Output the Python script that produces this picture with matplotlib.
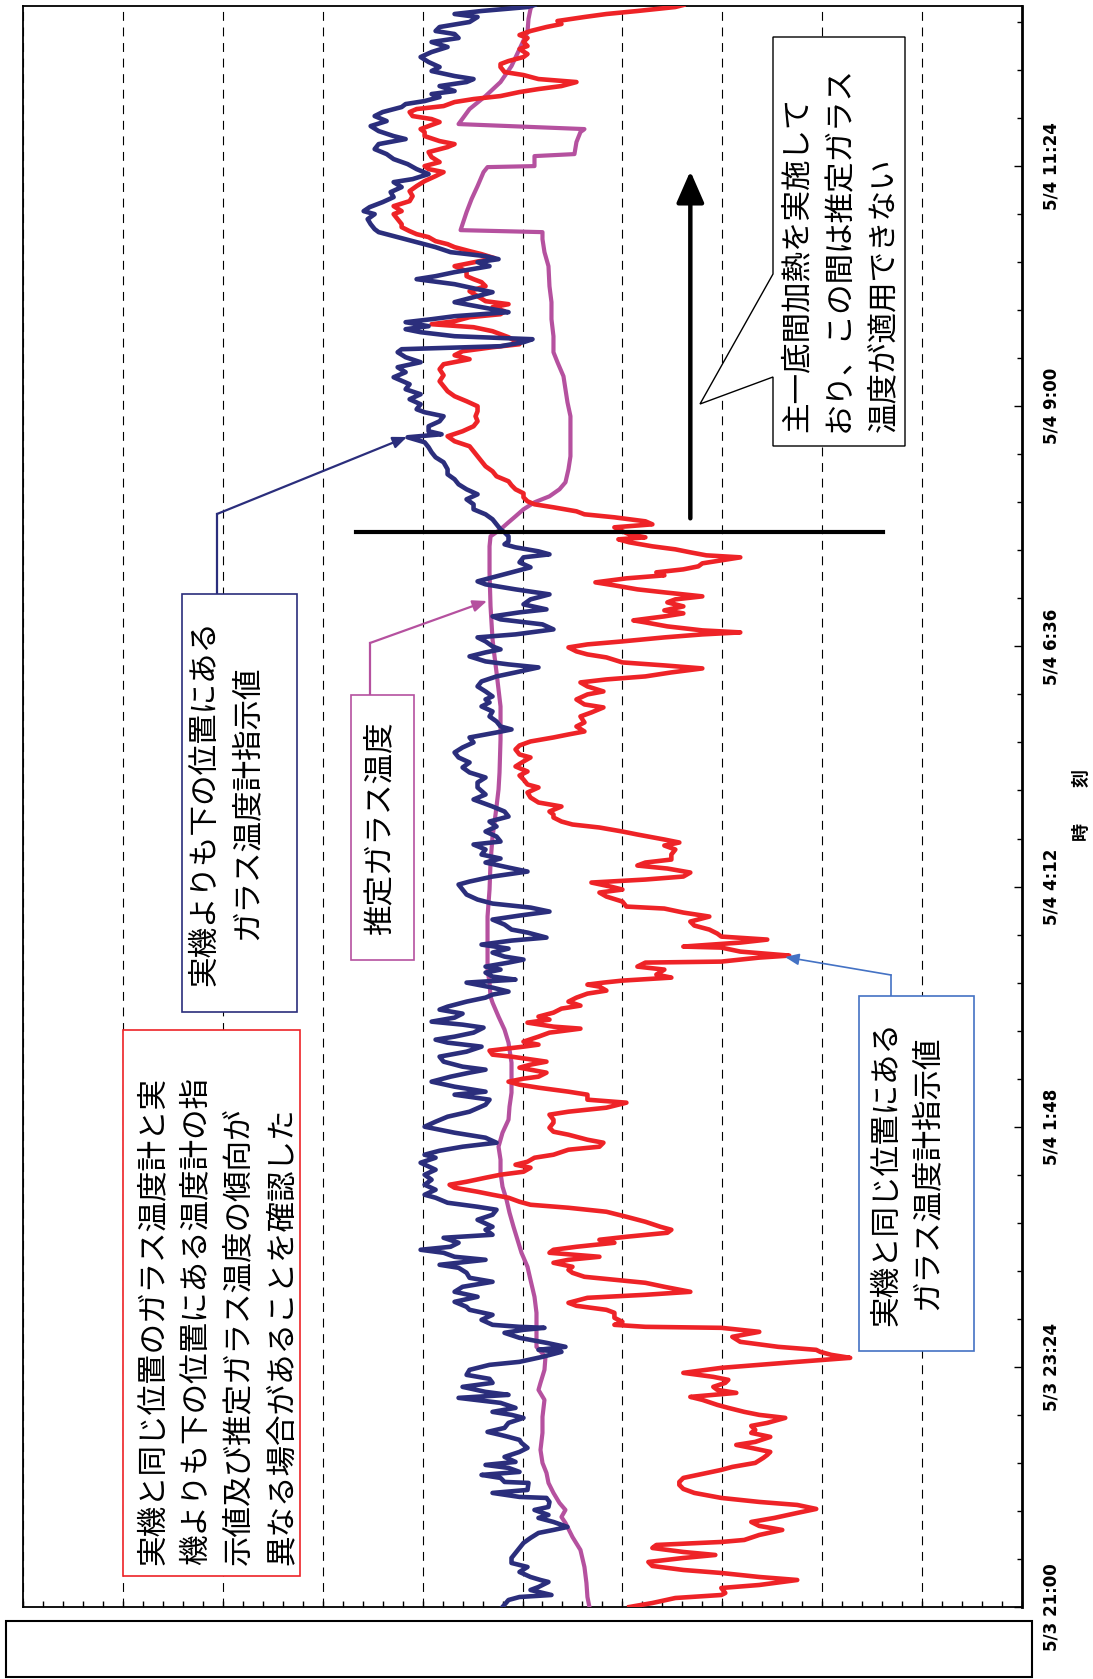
import matplotlib
matplotlib.use("Agg")
import matplotlib.pyplot as plt
from matplotlib.lines import Line2D
from matplotlib.patches import Rectangle, Polygon, FancyArrowPatch
from matplotlib.ticker import MultipleLocator

# ---------------------------------------------------------------------------
# data  (time = hours after 5/3 21:00, value = temperature in grid units)
# ---------------------------------------------------------------------------
time_ticks = [0, 2.4, 4.8, 7.2, 9.6, 12.0, 14.4]
time_labels = ["5/3 21:00", "5/3 23:24", "5/4 1:48", "5/4 4:12",
               "5/4 6:36", "5/4 9:00", "5/4 11:24"]

# 実機よりも下の位置にあるガラス温度計指示値 (navy)
navy_t = [0.00, 0.07, 0.10, 0.12, 0.17, 0.20, 0.25, 0.27, 0.30, 0.35, 0.40, 0.44, 0.49, 0.54, 0.59, 0.64,
          0.69, 0.74, 0.77, 0.80, 0.85, 0.89, 0.92, 0.97, 1.00, 1.05, 1.09, 1.10, 1.14, 1.17, 1.24, 1.25,
          1.29, 1.32, 1.35, 1.39, 1.42, 1.45, 1.50, 1.55, 1.59, 1.64, 1.67, 1.70, 1.72, 1.75, 1.79, 1.84,
          1.89, 1.92, 1.95, 1.99, 2.04, 2.09, 2.12, 2.15, 2.20, 2.24, 2.28, 2.32, 2.37, 2.42, 2.45, 2.50,
          2.55, 2.57, 2.60, 2.64, 2.69, 2.74, 2.77, 2.79, 2.80, 2.82, 2.87, 2.92, 2.97, 3.00, 3.05, 3.10,
          3.15, 3.20, 3.25, 3.29, 3.34, 3.39, 3.42, 3.47, 3.50, 3.54, 3.57, 3.60, 3.64, 3.69, 3.72, 3.77,
          3.80, 3.87, 3.92, 3.97, 4.00, 4.04, 4.09, 4.12, 4.17, 4.22, 4.27, 4.32, 4.37, 4.44, 4.49, 4.52,
          4.56, 4.60, 4.64, 4.69, 4.74, 4.80, 4.85, 4.90, 4.95, 5.02, 5.07, 5.12, 5.15, 5.20, 5.25, 5.30,
          5.34, 5.37, 5.40, 5.45, 5.50, 5.55, 5.60, 5.64, 5.67, 5.70, 5.74, 5.79, 5.82, 5.85, 5.89, 5.93,
          5.97, 6.00, 6.05, 6.09, 6.12, 6.15, 6.19, 6.24, 6.27, 6.30, 6.34, 6.37, 6.40, 6.44, 6.47, 6.50,
          6.54, 6.58, 6.62, 6.66, 6.69, 6.74, 6.77, 6.82, 6.87, 6.91, 6.95, 6.99, 7.03, 7.07, 7.12, 7.17,
          7.22, 7.25, 7.30, 7.35, 7.39, 7.44, 7.48, 7.52, 7.57, 7.62, 7.65, 7.70, 7.75, 7.80, 7.85, 7.90,
          7.95, 8.00, 8.07, 8.12, 8.19, 8.24, 8.29, 8.34, 8.39, 8.44, 8.49, 8.54, 8.59, 8.64, 8.69, 8.74,
          8.77, 8.80, 8.85, 8.90, 8.95, 9.00, 9.04, 9.07, 9.10, 9.15, 9.20, 9.25, 9.30, 9.34, 9.39, 9.42,
          9.45, 9.50, 9.54, 9.57, 9.60, 9.65, 9.69, 9.72, 9.77, 9.82, 9.87, 9.90, 9.94, 9.97, 10.02, 10.07,
          10.12, 10.17, 10.22, 10.25, 10.30, 10.35, 10.39, 10.44, 10.49, 10.52, 10.55, 10.59, 10.62, 10.65,
          10.70, 10.74, 10.77, 10.82, 10.87, 10.92, 10.97, 11.02, 11.07, 11.12, 11.17, 11.22, 11.27, 11.32,
          11.37, 11.44, 11.49, 11.54, 11.59, 11.64, 11.69, 11.72, 11.75, 11.80, 11.85, 11.90, 11.94, 11.97,
          12.02, 12.07, 12.12, 12.17, 12.22, 12.29, 12.34, 12.39, 12.44, 12.49, 12.54, 12.57, 12.60, 12.64,
          12.67, 12.70, 12.74, 12.77, 12.80, 12.84, 12.87, 12.90, 12.94, 12.97, 13.04, 13.09, 13.14, 13.17,
          13.22, 13.27, 13.30, 13.34, 13.40, 13.44, 13.47, 13.50, 13.54, 13.59, 13.64, 13.69, 13.74, 13.77,
          13.82, 13.87, 13.92, 13.95, 13.99, 14.04, 14.09, 14.14, 14.19, 14.24, 14.27, 14.32, 14.37, 14.42,
          14.47, 14.52, 14.57, 14.62, 14.67, 14.70, 14.75, 14.80, 14.85, 14.90, 14.94, 14.99, 15.02, 15.05,
          15.09, 15.12, 15.15, 15.20, 15.24, 15.27, 15.30, 15.35, 15.39, 15.44, 15.49, 15.54, 15.59, 15.64,
          15.68, 15.72, 15.75, 15.79, 15.84, 15.89, 15.92, 15.95, 15.99, 16.01]
navy_v = [5.20, 5.14, 5.03, 4.71, 4.92, 4.84, 4.74, 4.82, 4.92, 5.03, 4.95, 5.11, 5.11, 5.07, 5.03, 4.99,
          4.92, 4.84, 4.69, 4.55, 4.69, 4.84, 4.74, 4.88, 4.74, 4.73, 4.76, 5.03, 5.30, 4.95, 4.94, 5.18,
          5.22, 5.41, 5.03, 5.14, 5.37, 5.07, 5.18, 5.03, 4.95, 5.01, 5.03, 5.14, 5.22, 5.35, 5.18, 5.14,
          4.99, 5.11, 5.30, 5.07, 5.22, 5.64, 5.14, 5.37, 5.60, 5.30, 5.33, 5.56, 5.53, 5.33, 5.03, 4.80,
          4.61, 4.84, 4.57, 4.76, 5.03, 5.18, 4.99, 4.78, 5.03, 5.30, 5.41, 5.30, 5.53, 5.56, 5.68, 5.45,
          5.68, 5.60, 5.30, 5.53, 5.56, 5.64, 5.83, 5.37, 5.68, 5.79, 6.02, 5.72, 5.64, 5.79, 5.30, 5.37,
          5.30, 5.45, 5.30, 5.26, 5.45, 5.75, 5.87, 5.98, 5.87, 5.98, 5.91, 5.98, 5.87, 6.02, 5.87, 5.98,
          5.83, 5.60, 5.26, 5.37, 5.68, 5.98, 5.87, 5.75, 5.53, 5.37, 5.33, 5.68, 5.37, 5.68, 5.91, 5.72,
          5.53, 5.37, 5.60, 5.79, 5.83, 5.56, 5.41, 5.75, 5.87, 5.68, 5.49, 5.39, 5.60, 5.91, 5.68, 5.60,
          5.83, 5.75, 5.56, 5.37, 5.30, 5.14, 5.30, 5.56, 5.07, 5.30, 5.37, 5.22, 5.37, 5.14, 4.99, 5.18,
          5.30, 5.14, 5.41, 5.11, 4.76, 4.95, 5.11, 5.18, 5.30, 5.03, 4.73, 4.92, 5.30, 5.45, 5.56, 5.60,
          5.64, 5.53, 5.30, 4.95, 5.14, 5.37, 5.22, 5.41, 5.37, 5.49, 5.22, 5.26, 5.37, 5.26, 5.33, 5.14,
          5.18, 5.30, 5.49, 5.37, 5.45, 5.45, 5.37, 5.53, 5.60, 5.53, 5.64, 5.68, 5.60, 5.49, 5.53, 5.26,
          5.11, 5.22, 5.26, 5.33, 5.30, 5.41, 5.33, 5.37, 5.30, 5.37, 5.45, 5.41, 5.26, 5.07, 4.84, 5.14,
          5.37, 5.53, 5.37, 5.22, 5.30, 5.37, 5.45, 5.07, 4.69, 4.80, 5.22, 5.30, 5.03, 4.76, 4.99, 4.92,
          4.73, 5.07, 5.37, 5.45, 5.26, 5.07, 4.92, 5.03, 4.99, 4.73, 4.84, 5.07, 5.18, 5.14,
          5.14, 5.18, 5.22, 5.26, 5.30, 5.37, 5.49, 5.49, 5.56, 5.45, 5.56, 5.64, 5.68, 5.75,
          5.75, 5.79, 5.87, 5.91, 5.94, 5.98, 6.15, 5.81, 5.94, 5.94, 5.83, 5.79, 5.98, 6.06,
          6.02, 6.13, 6.02, 6.17, 6.13, 6.29, 6.17, 6.25, 6.02, 6.17, 6.25, 6.21, 5.22, 4.99,
          4.90, 5.68, 6.02, 6.17, 5.94, 6.17, 5.91, 5.68, 5.14, 5.30, 5.68, 5.49, 5.30, 5.45,
          5.68, 6.06, 5.87, 5.68, 5.33, 5.45, 5.24, 5.37, 5.72, 5.87, 6.06, 6.25, 6.44, 6.48,
          6.52, 6.55, 6.48, 6.59, 6.53, 6.40, 6.29, 6.32, 6.21, 6.29, 6.10, 5.94, 6.06, 6.15,
          6.29, 6.36, 6.48, 6.44, 6.17, 6.29, 6.44, 6.52, 6.36, 6.48, 6.40, 6.21, 6.17, 5.98,
          5.83, 5.91, 5.68, 5.83, 5.56, 5.49, 5.68, 5.91, 5.83, 5.94, 6.02, 5.91, 5.75, 5.91,
          5.64, 5.68, 5.87, 5.83, 5.53, 5.45, 5.68, 5.41, 4.95, 4.88]

# 実機と同じ位置にあるガラス温度計指示値 (red)
red_t = [0.00, 0.04, 0.09, 0.12, 0.14, 0.19, 0.22, 0.27, 0.30, 0.34, 0.37, 0.41, 0.45, 0.49, 0.52, 0.55,
         0.59, 0.62, 0.65, 0.67, 0.72, 0.77, 0.81, 0.85, 0.89, 0.94, 0.98, 1.02, 1.05, 1.09, 1.14, 1.18,
         1.22, 1.25, 1.29, 1.33, 1.37, 1.40, 1.44, 1.49, 1.52, 1.55, 1.59, 1.62, 1.65, 1.70, 1.74, 1.77,
         1.81, 1.84, 1.89, 1.92, 1.95, 1.99, 2.02, 2.07, 2.10, 2.14, 2.17, 2.20, 2.24, 2.27, 2.30, 2.34,
         2.39, 2.42, 2.45, 2.49, 2.52, 2.55, 2.57, 2.60, 2.65, 2.70, 2.75, 2.79, 2.80, 2.82, 2.85, 2.89,
         2.94, 2.97, 3.01, 3.04, 3.09, 3.12, 3.15, 3.20, 3.24, 3.27, 3.30, 3.34, 3.37, 3.40, 3.44, 3.47,
         3.50, 3.54, 3.57, 3.60, 3.64, 3.67, 3.70, 3.74, 3.77, 3.80, 3.85, 3.90, 3.95, 3.99, 4.02, 4.05,
         4.09, 4.12, 4.15, 4.19, 4.22, 4.25, 4.29, 4.32, 4.35, 4.39, 4.42, 4.45, 4.49, 4.52, 4.57, 4.60,
         4.64, 4.67, 4.72, 4.75, 4.79, 4.84, 4.87, 4.92, 4.95, 4.99, 5.04, 5.07, 5.12, 5.15, 5.19, 5.22,
         5.25, 5.28, 5.30, 5.34, 5.39, 5.42, 5.45, 5.50, 5.52, 5.56, 5.60, 5.62, 5.65, 5.70, 5.74, 5.78,
         5.80, 5.84, 5.87, 5.90, 5.94, 5.98, 6.01, 6.05, 6.09, 6.13, 6.16, 6.20, 6.22, 6.24, 6.26, 6.29,
         6.32, 6.37, 6.40, 6.44, 6.45, 6.49, 6.51, 6.55, 6.59, 6.60, 6.64, 6.67, 6.70, 6.73, 6.77, 6.81,
         6.85, 6.90, 6.94, 6.98, 7.00, 7.05, 7.10, 7.14, 7.17, 7.20, 7.24, 7.27, 7.30, 7.34, 7.38, 7.41,
         7.44, 7.47, 7.52, 7.57, 7.61, 7.64, 7.67, 7.72, 7.75, 7.79, 7.82, 7.85, 7.89, 7.92, 7.95, 8.00,
         8.04, 8.09, 8.14, 8.19, 8.22, 8.27, 8.31, 8.35, 8.40, 8.45, 8.49, 8.52, 8.57, 8.61, 8.65, 8.69,
         8.72, 8.75, 8.80, 8.84, 8.90, 8.94, 8.99, 9.02, 9.07, 9.12, 9.15, 9.20, 9.24, 9.27, 9.30, 9.34,
         9.38, 9.41, 9.44, 9.49, 9.52, 9.55, 9.59, 9.62, 9.65, 9.69, 9.72, 9.74, 9.76, 9.80, 9.84, 9.86,
         9.90, 9.93, 9.96, 10.00, 10.04, 10.07, 10.10, 10.14, 10.17, 10.21, 10.24, 10.28, 10.31, 10.34,
         10.37, 10.40, 10.43, 10.46, 10.49, 10.51, 10.54, 10.57, 10.60, 10.64, 10.67, 10.69, 10.72, 10.75,
         10.79, 10.82, 10.85, 10.89, 10.92, 10.95, 10.99, 11.02, 11.05, 11.09, 11.13, 11.17, 11.21, 11.25,
         11.30, 11.35, 11.40, 11.45, 11.50, 11.55, 11.60, 11.65, 11.70, 11.75, 11.80, 11.85, 11.90, 11.95,
         12.00, 12.05, 12.10, 12.15, 12.20, 12.25, 12.31, 12.37, 12.42, 12.47, 12.51, 12.55, 12.59, 12.62,
         12.65, 12.69, 12.72, 12.75, 12.79, 12.82, 12.85, 12.89, 12.92, 12.95, 12.99, 13.02, 13.05, 13.10,
         13.15, 13.20, 13.24, 13.27, 13.30, 13.35, 13.40, 13.48, 13.52, 13.55, 13.59, 13.62, 13.65, 13.69,
         13.72, 13.75, 13.79, 13.82, 13.87, 13.92, 13.95, 14.00, 14.05, 14.10, 14.15, 14.20, 14.25, 14.30,
         14.34, 14.37, 14.40, 14.44, 14.49, 14.54, 14.59, 14.62, 14.65, 14.70, 14.74, 14.77, 14.80, 14.84,
         14.87, 14.90, 14.94, 14.97, 15.00, 15.04, 15.07, 15.10, 15.14, 15.17, 15.20, 15.24, 15.27, 15.31,
         15.34, 15.39, 15.42, 15.45, 15.49, 15.52, 15.57, 15.60, 15.64, 15.68, 15.71, 15.75, 15.79, 15.82,
         15.85, 15.89, 15.92, 15.95, 15.99, 16.01]
red_v = [3.93, 3.70, 3.47, 3.01, 2.97, 3.01, 2.63, 2.25, 2.63, 3.01, 3.39, 3.70, 3.74, 3.39, 3.07, 3.39,
         3.70, 3.66, 3.01, 2.78, 2.63, 2.40, 2.63, 2.71, 2.48, 2.25, 2.06, 2.25, 2.63, 3.01, 3.28, 3.39,
         3.43, 3.43, 3.39, 3.20, 3.01, 2.90, 2.67, 2.59, 2.55, 2.52, 2.71, 2.86, 2.67, 2.52, 2.71, 2.67,
         2.71, 2.55, 2.37, 2.63, 2.78, 2.94, 3.05, 3.20, 3.32, 2.86, 3.05, 3.09, 2.97, 2.94, 3.09, 3.39,
         3.01, 2.63, 2.25, 1.72, 1.91, 2.02, 2.06, 2.44, 2.82, 2.90, 2.63, 3.01, 3.77, 4.08, 4.00, 4.08,
         4.08, 4.16, 4.46, 4.54, 4.35, 3.77, 3.32, 3.58, 3.77, 4.08, 4.38, 4.50, 4.54, 4.50, 4.69, 4.54,
         4.23, 4.73, 4.69, 4.46, 4.08, 4.23, 3.96, 3.55, 3.51, 3.62, 3.77, 3.96, 4.16, 4.54, 4.92, 5.03,
         5.14, 5.30, 5.45, 5.68, 5.73, 5.56, 5.37, 5.22, 4.99, 4.92, 5.07, 4.95, 4.88, 4.69, 4.54, 4.23,
         4.19, 4.35, 4.54, 4.69, 4.73, 4.69, 4.69, 4.73, 4.54, 4.16, 3.96, 4.35, 4.35, 4.54, 4.84, 5.03,
         5.14, 4.99, 4.84, 4.76, 5.03, 4.92, 4.76, 5.11, 5.30, 5.33, 4.99, 4.84, 4.99, 4.84, 4.73, 4.42,
         4.69, 4.95, 4.73, 4.84, 4.69, 4.61, 4.42, 4.54, 4.46, 4.35, 4.16, 4.23, 4.35, 4.19, 4.00, 3.51,
         3.66, 3.58, 3.85, 3.77, 3.01, 2.63, 2.33, 2.82, 3.01, 3.39, 2.82, 2.55, 3.01, 3.05, 3.13, 3.28,
         3.32, 3.13, 3.39, 3.58, 3.96, 4.00, 4.16, 4.23, 4.00, 4.12, 4.31, 3.77, 3.39, 3.32, 3.55, 3.85,
         3.77, 3.51, 3.51, 3.47, 3.58, 3.43, 3.58, 3.85, 4.00, 4.23, 4.50, 4.61, 4.69, 4.69, 4.73, 4.61,
         4.84, 4.92, 4.95, 4.84, 4.95, 4.99, 5.03, 4.95, 5.07, 4.99, 4.92, 5.03, 5.07, 5.03, 4.92, 4.69,
         4.54, 4.38, 4.46, 4.38, 4.42, 4.31, 4.19, 4.38, 4.46, 4.35, 4.19, 4.35, 4.42, 4.16, 3.77, 3.51,
         3.20, 3.58, 4.00, 4.16, 4.35, 4.46, 4.54, 4.35, 4.00, 3.58, 3.20, 2.82, 3.20, 3.55, 3.77, 3.89,
         3.58, 3.39, 3.58, 3.39, 3.55, 3.47, 3.20, 3.58, 3.85, 4.08, 4.27, 3.96, 3.58, 3.66,
         3.39, 3.24, 3.20, 3.01, 2.82, 3.16, 3.32, 3.47, 3.70, 3.93, 4.04, 3.77, 3.93, 4.00,
         4.08, 3.70, 3.77, 4.08, 4.38, 4.46, 4.69, 4.88, 4.95, 4.99, 4.99, 5.07, 5.11, 5.14,
         5.26, 5.30, 5.37, 5.41, 5.45, 5.49, 5.53, 5.68, 5.75, 5.60, 5.49, 5.45, 5.47, 5.45,
         5.45, 5.56, 5.68, 5.75, 5.79, 5.83, 5.79, 5.83, 5.79, 5.53, 5.68, 5.60, 5.30, 5.03,
         5.07, 5.14, 5.22, 5.30, 5.49, 5.91, 5.68, 5.53, 5.22, 5.18, 5.30, 5.14, 5.37, 5.45,
         5.53, 5.37, 5.41, 5.49, 5.56, 5.56, 5.68, 5.28, 5.41, 5.53, 5.68, 5.75, 5.87, 5.94,
         6.06, 6.13, 6.21, 6.21, 6.25, 6.29, 6.21, 6.29, 6.13, 6.10, 6.13, 6.06, 5.98, 5.87,
         5.79, 5.94, 5.98, 5.83, 5.91, 5.94, 5.75, 5.68, 5.83, 5.98, 5.98, 6.02, 5.94, 5.83,
         5.91, 6.10, 6.13, 6.06, 5.79, 5.68, 5.49, 5.22, 5.03, 4.84, 4.61, 4.46, 4.84, 4.99,
         5.18, 5.22, 5.22, 5.14, 4.99, 4.95, 5.03, 4.95, 4.99, 4.95, 5.03, 4.92, 4.76, 4.61,
         4.65, 4.38, 4.16, 3.85, 3.47, 3.39]

# 推定ガラス温度 (magenta)
est_t = [0.00, 0.10, 0.24, 0.40, 0.57, 0.70, 0.84, 0.90, 0.97, 1.04, 1.14, 1.24, 1.34, 1.44, 1.57, 1.74,
         1.90, 2.07, 2.17, 2.24, 2.37, 2.50, 2.60, 2.77, 2.94, 3.10, 3.27, 3.40, 3.54, 3.67, 3.80, 3.94,
         4.07, 4.20, 4.34, 4.47, 4.60, 4.74, 4.87, 5.00, 5.14, 5.30, 5.44, 5.57, 5.64, 5.77, 5.90, 6.04,
         6.10, 6.24, 6.37, 6.64, 6.90, 7.17, 7.44, 7.70, 7.84, 8.00, 8.17, 8.34, 8.67, 9.00, 9.17, 9.34,
         9.50, 9.67, 10.00, 10.34, 10.60, 10.70, 10.77, 10.84, 10.90, 10.97, 11.04, 11.10, 11.17, 11.24,
         11.37, 11.50, 11.77, 11.90, 12.04, 12.17, 12.30, 12.44, 12.54, 12.70, 12.87, 13.04, 13.20, 13.40,
         13.54, 13.67, 13.74, 13.76, 13.94, 14.07, 14.20, 14.34, 14.39, 14.40, 14.50, 14.52, 14.64, 14.74,
         14.77, 14.82, 14.97, 15.10, 15.24, 15.40, 15.57, 15.74, 15.87, 15.97, 16.01]
est_v = [4.33, 4.35, 4.36, 4.38, 4.42, 4.50, 4.57, 4.61, 4.57, 4.63, 4.69, 4.74, 4.76, 4.80, 4.82, 4.80,
         4.80, 4.78, 4.84, 4.82, 4.78, 4.77, 4.86, 4.86, 4.86, 4.88, 4.92, 4.95, 5.01, 5.05, 5.09, 5.13,
         5.16, 5.20, 5.22, 5.22, 5.24, 5.20, 5.14, 5.13, 5.11, 5.11, 5.11, 5.13, 5.14, 5.18, 5.24, 5.30,
         5.32, 5.33, 5.35, 5.35, 5.35, 5.33, 5.32, 5.30, 5.28, 5.26, 5.24, 5.23, 5.22, 5.22, 5.24, 5.26,
         5.28, 5.30, 5.32, 5.33, 5.33, 5.32, 5.22, 5.14, 5.07, 4.99, 4.88, 4.73, 4.63, 4.57,
         4.54, 4.52, 4.52, 4.52, 4.55, 4.57, 4.59, 4.65, 4.69, 4.69, 4.71, 4.71, 4.73, 4.74,
         4.78, 4.80, 4.80, 5.62, 5.56, 5.51, 5.45, 5.39, 5.35, 4.88, 4.88, 4.48, 4.46, 4.42,
         4.38, 5.64, 5.53, 5.37, 5.22, 5.11, 5.03, 4.95, 4.94, 4.92, 4.90]

# 主一底間加熱 の開始時刻 / 矢印
heat_t = 10.74
heat_span = (6.67, 1.39)
arrow_v = 3.32
arrow_t = (10.88, 14.35)

# ---------------------------------------------------------------------------

W, H = 1093, 1679
jp = ["Noto Sans CJK JP", "DejaVu Sans"]
navy = "#2b2e7c"
red = "#ee2327"
mag = "#b5519f"
blue = "#4472c4"

fig = plt.figure(figsize=(W / 100, H / 100), dpi=100)
fig.patch.set_facecolor("white")
ax = fig.add_axes([23 / W, 1 - 1607 / H, 999 / W, 1601 / H])

ax.plot(est_v, est_t, color=mag, lw=3.0, zorder=3, solid_joinstyle="round")
ax.plot(red_v, red_t, color=red, lw=3.3, zorder=4, solid_joinstyle="round")
ax.plot(navy_v, navy_t, color=navy, lw=3.3, zorder=5, solid_joinstyle="round")

ax.plot(heat_span, [heat_t, heat_t], color="black", lw=3.0, zorder=6)
ax.annotate("", xy=(arrow_v, arrow_t[1]), xytext=(arrow_v, arrow_t[0]),
            arrowprops=dict(arrowstyle="-|>,head_length=0.8,head_width=0.35",
                            mutation_scale=24, color="black", lw=3.2,
                            shrinkA=0, shrinkB=0), zorder=6)

ax.set_xlim(10, 0)
ax.set_ylim(0, 16)

# temperature axis (bottom, no labels)
ax.xaxis.set_major_locator(MultipleLocator(1))
ax.xaxis.set_minor_locator(MultipleLocator(0.2))
ax.tick_params(axis="x", which="both", direction="in", length=4, width=1,
               labelbottom=False)
ax.grid(axis="x", which="major", color="black", lw=0.8, ls=(0, (8, 6)))

# time axis (right side)
ax.yaxis.tick_right()
ax.set_yticks(time_ticks)
ax.set_yticklabels(time_labels)
ax.yaxis.set_minor_locator(MultipleLocator(0.48))
ax.tick_params(axis="y", which="major", direction="in", length=6, width=1, pad=15)
ax.tick_params(axis="y", which="minor", direction="in", length=3.5, width=1)
for lab in ax.get_yticklabels():
    lab.set_rotation(90)
    lab.set_va("center")
    lab.set_fontsize(12)
    lab.set_fontweight("bold")
    lab.set_family(["Liberation Sans Narrow", "DejaVu Sans"])

for s in ax.spines.values():
    s.set_linewidth(1.3)
ax.spines["right"].set_linewidth(2)

fig.text(1081 / W, 1 - 805 / H, "時　　刻", rotation=90, ha="center", va="center",
         fontsize=13, fontweight="bold", family=jp)


# ---------------------------------------------------------------------------
# annotation boxes (figure pixels, y from top)

def fx(x):
    return x / W


def fy(y):
    return 1 - y / H


def box(x0, y0, x1, y1, ec, lw=1.2):
    fig.add_artist(Rectangle((fx(x0), fy(y1)), (x1 - x0) / W, (y1 - y0) / H,
                             transform=fig.transFigure, fc="white", ec=ec, lw=lw, zorder=8))


def vtext(x, y, s, va):
    fig.text(fx(x), fy(y), s, rotation=90, ha="center", va=va, fontsize=22,
             family=jp, zorder=10)


def leader(x0, y0, x1, y1, x2, y2, color, lw):
    fig.add_artist(Line2D([fx(x0), fx(x1)], [fy(y0), fy(y1)], transform=fig.transFigure,
                          color=color, lw=lw, zorder=7))
    fig.add_artist(FancyArrowPatch((fx(x1), fy(y1)), (fx(x2), fy(y2)),
                                   transform=fig.transFigure,
                                   arrowstyle="-|>,head_length=0.6,head_width=0.25",
                                   mutation_scale=14, color=color, lw=lw,
                                   shrinkA=0, shrinkB=0, zorder=7))


# red summary box
box(123, 1030, 300, 1576, red)
vtext(153, 1565, "実機と同じ位置のガラス温度計と実", "bottom")
vtext(196, 1565, "機よりも下の位置にある温度計の指", "bottom")
vtext(239, 1565, "示値及び推定ガラス温度の傾向が", "bottom")
vtext(282, 1565, "異なる場合があることを確認した", "bottom")

# navy label
leader(217, 594, 217, 514, 407, 437, navy, 1.6)
box(182, 594, 297, 1012, navy)
vtext(205, 803, "実機よりも下の位置にある", "center")
vtext(247, 803, "ガラス温度計指示値", "center")

# magenta label
leader(370, 695, 370, 643, 487, 601, mag, 1.6)
box(351, 695, 414, 960, mag)
vtext(380, 828, "推定ガラス温度", "center")

# blue label
leader(891, 996, 891, 975, 785, 957, blue, 1.2)
box(859, 996, 974, 1351, blue)
vtext(887, 1173, "実機と同じ位置にある", "center")
vtext(927, 1173, "ガラス温度計指示値", "center")

# callout
callout = [(773, 37), (905, 37), (905, 446), (773, 446), (773, 377), (700, 404), (773, 274)]
fig.add_artist(Polygon([(fx(x), fy(y)) for x, y in callout], closed=True,
                       transform=fig.transFigure, fc="white", ec="black", lw=1.0, zorder=8))
vtext(797, 432, "主一底間加熱を実施して", "bottom")
vtext(840, 432, "おり、この間は推定ガラス", "bottom")
vtext(884, 432, "温度が適用できない", "bottom")

# empty box under the chart
fig.add_artist(Rectangle((fx(6), fy(1677)), 1026 / W, 56 / H, transform=fig.transFigure,
                         fc="none", ec="black", lw=1.5, zorder=8))

fig.savefig("out.png", dpi=100)
